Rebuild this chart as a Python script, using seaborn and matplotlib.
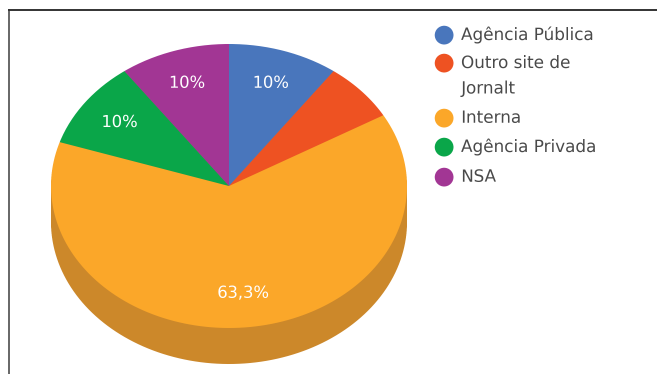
import matplotlib
matplotlib.use("Agg")
import matplotlib.pyplot as plt
from matplotlib.lines import Line2D
import numpy as np
import seaborn as sns

categories = ["Agência Pública", "Outro site de\nJornalt", "Interna", "Agência Privada", "NSA"]
shares = [10, 6.7, 63.3, 10, 10]
slice_colors = ["#4A76BC", "#EE5223", "#FBA729", "#0BA64A", "#A33695"]
side_color = "#CC882B"

sns.set_theme(style="white")
plt.rcParams["font.family"] = ["DejaVu Sans"]

W, H = 657, 374
cx, cy, rx, ry, depth = 229, 186, 178, 142, 36
left, top = 9, 10
SCALE = 4

fig = plt.figure(figsize=(W / 100, H / 100), dpi=100 * SCALE, facecolor="white")
ax = fig.add_axes([left / W, 0, (W - left) / W, (H - top) / H])


def pct_label(pct):
    if pct < 8:
        return ""
    return f"{pct:.1f}".replace(".", ",").replace(",0", "") + "%"


# Extruded side of the disc: the same slices stacked downwards in a darker tone
for half_step in range(depth * 2, 0, -1):
    side, _ = ax.pie(shares, colors=[side_color] * len(shares), startangle=90, counterclock=False,
                     center=(0, -half_step / (2 * ry)), wedgeprops={"linewidth": 0})

wedges, _, pct_texts = ax.pie(shares, colors=slice_colors, startangle=90, counterclock=False,
                              autopct=pct_label, pctdistance=0.76,
                              wedgeprops={"linewidth": 0},
                              textprops={"color": "white", "fontsize": 11.8})

ax.set_aspect("auto")
ax.set_xlim((left - cx) / rx, (W - cx) / rx)
ax.set_ylim((cy - H) / ry, (cy - top) / ry)
ax.set_xticks([])
ax.set_yticks([])
ax.set_frame_on(True)

for name, spine in ax.spines.items():
    spine.set_visible(name in ("left", "top"))
    spine.set_linewidth(1.4)
ax.spines["left"].set_color("#666666")
ax.spines["top"].set_color("#333333")

# Hand-laid legend: each key sits on the first line of its entry
key_rows = [35, 63, 118, 147, 177]
text_rows = [35, 76, 118, 147, 177]
for name, color, key_y, text_y in zip(categories, slice_colors, key_rows, text_rows):
    fig.add_artist(Line2D([444 / W], [1 - key_y / H], transform=fig.transFigure,
                          linestyle="none", marker="o", markersize=13.5,
                          markerfacecolor=color, markeredgewidth=0))
    fig.text(461 / W, 1 - text_y / H, name, ha="left", va="center", fontsize=12.1,
             color="#4A4A4A", linespacing=1.68)

# Supersample the canvas and average it down for smooth ellipse edges
fig.canvas.draw()
rgba = np.asarray(fig.canvas.buffer_rgba(), dtype=float)[: H * SCALE, : W * SCALE, :3] / 255
small = rgba.reshape(H, SCALE, W, SCALE, 3).mean(axis=(1, 3))
plt.imsave("out.png", small)
